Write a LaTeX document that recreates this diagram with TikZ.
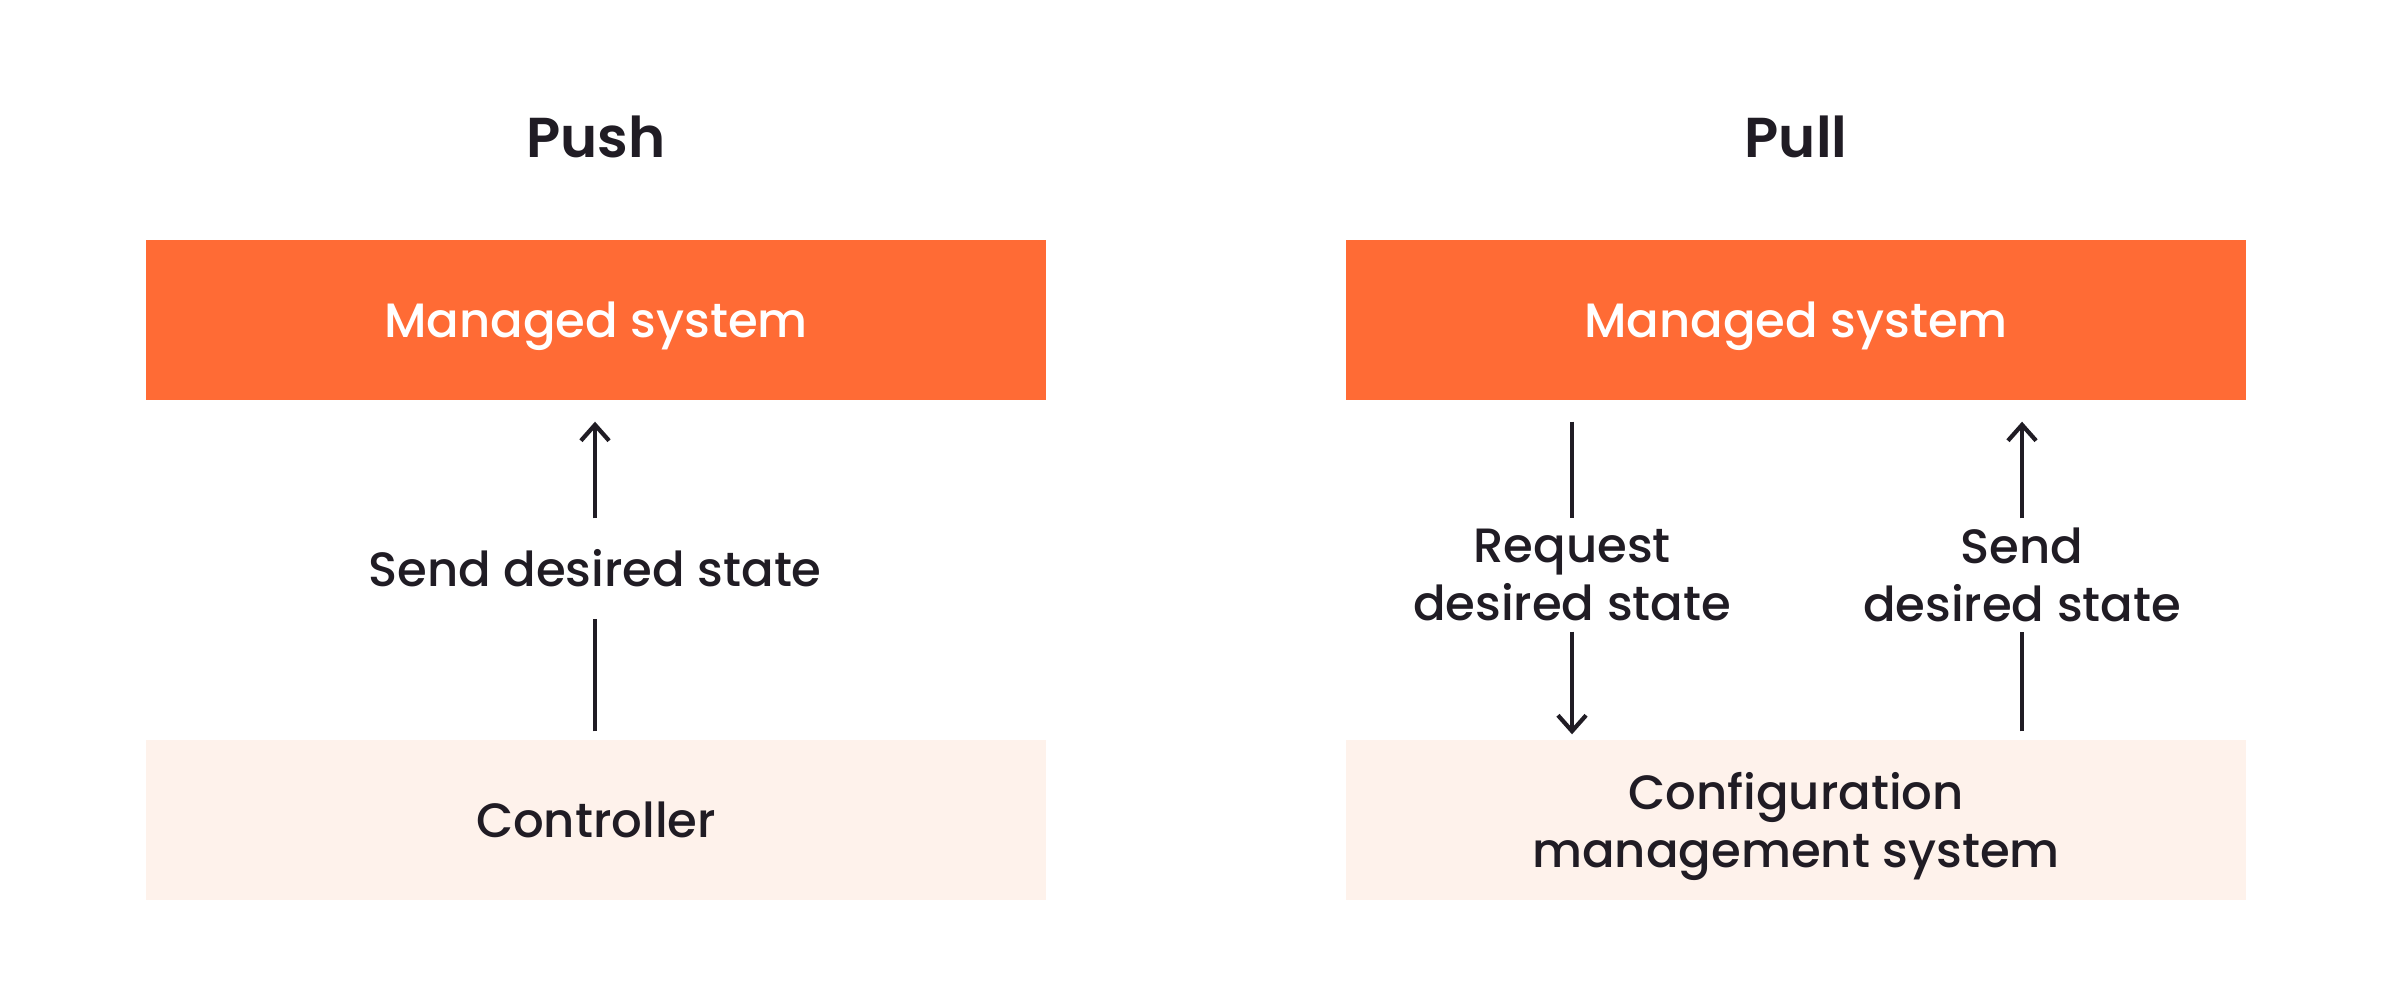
\documentclass[tikz,border=0pt]{standalone}
\usepackage{fontspec}
\setmainfont{Poppins Medium}
\newfontfamily\titlefont{Poppins SemiBold}
\usetikzlibrary{arrows.meta}
\definecolor{brandorange}{HTML}{FF6B35}
\definecolor{paleorange}{HTML}{FEF2EB}
\definecolor{ink}{HTML}{201C24}

\begin{document}
\begin{tikzpicture}[y=-1cm,
    box/.style={minimum width=9cm, minimum height=1.6cm, inner sep=0pt,
      text depth=0pt, align=center, font=\fontsize{13.7}{16.5}\selectfont},
    managed/.style={box, fill=brandorange, text=white},
    source/.style={box, fill=paleorange, text=ink},
    title/.style={text=ink, font=\titlefont\fontsize{16}{19}\selectfont},
    label/.style={text=ink, align=center, inner sep=0pt,
      font=\fontsize{13.7}{16.5}\selectfont},
    flow/.style={ink, line width=1.2pt},
    tip/.style={-{Straight Barb[length=4.5pt,width=8pt]}}]
    \useasboundingbox (0,0) rectangle (24,10);

    % Push
    \node[title] (pushtitle) at (5.96,1.37) {Push};
    \node[managed] (pushms) at (5.96,3.2) {Managed system};
    \node[source] (ctrl) at (5.96,8.2) {Controller};
    \node[label, minimum height=0.99cm] (pushlbl) at (5.95,5.685) {Send desired state};

    \draw[flow, shorten <=0.08cm] (ctrl.north -| pushlbl) -- (pushlbl);
    \draw[flow, tip, shorten >=0.21cm] (pushlbl) -- (pushlbl |- pushms.south);

    % Pull
    \node[title] (pulltitle) at (17.96,1.37) {Pull};
    \node[managed] (pullms) at (17.96,3.2) {Managed system};
    \node[source] (cms) at (17.96,8.2) {Configuration\\management system};
    \node[label, minimum height=1.12cm] (reqlbl) at (15.72,5.75) {Request\\desired state};
    \node[label, minimum height=1.12cm] (sendlbl) at (20.22,5.75) {Send\\desired state};

    \draw[flow, shorten <=0.21cm] (reqlbl |- pullms.south) -- (reqlbl);
    \draw[flow, tip, shorten >=0.05cm] (reqlbl) -- (reqlbl |- cms.north);
    \draw[flow, shorten <=0.08cm] (sendlbl |- cms.north) -- (sendlbl);
    \draw[flow, tip, shorten >=0.21cm] (sendlbl) -- (sendlbl |- pullms.south);
\end{tikzpicture}
\end{document}
